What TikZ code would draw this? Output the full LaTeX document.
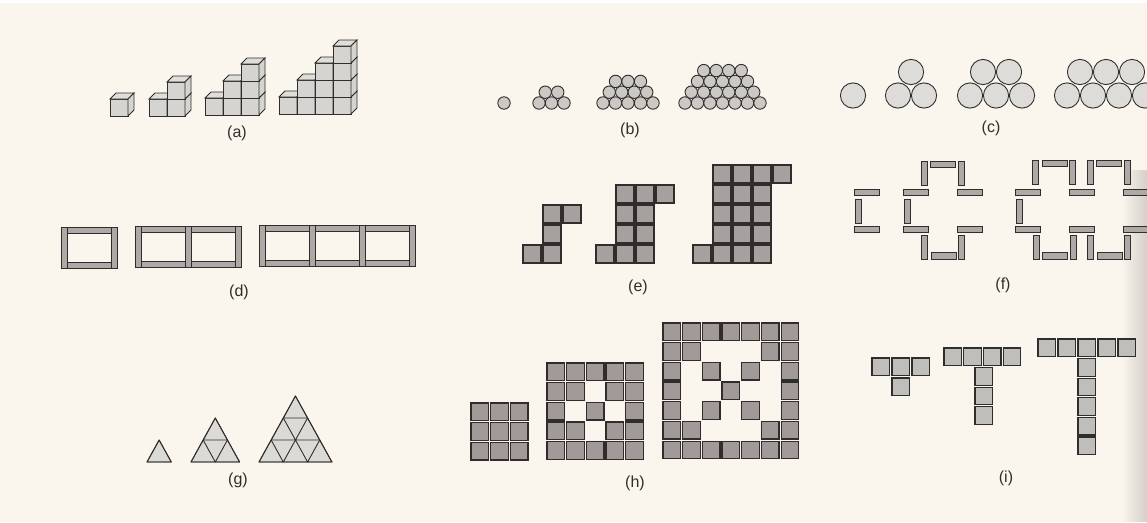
\documentclass[tikz,border=0pt]{standalone}
\usepackage{fontspec}
\setmainfont{Liberation Sans}
\usetikzlibrary{fadings}
\definecolor{bg}{RGB}{250,246,238}
\definecolor{ink}{RGB}{48,46,44}
\definecolor{cubecol}{RGB}{214,212,208}
\definecolor{cubetopcol}{RGB}{224,222,218}
\definecolor{ballb}{RGB}{204,201,197}
\definecolor{ballc}{RGB}{222,220,216}
\definecolor{stickcol}{RGB}{172,169,166}
\definecolor{ecol}{RGB}{166,161,159}
\definecolor{hcol}{RGB}{162,154,153}
\definecolor{icol}{RGB}{192,190,187}
\definecolor{tricol}{RGB}{220,218,214}
\definecolor{edgegray}{RGB}{212,207,200}
\tikzset{
  cubeface/.style={fill=cubecol, draw=ink, line width=0.9pt},
  cubetop/.style={fill=cubetopcol, draw=ink, line width=0.9pt},
  ballB/.style={fill=ballb, draw=ink, line width=0.9pt},
  ballC/.style={fill=ballc, draw=ink, line width=0.9pt},
  stick/.style={fill=stickcol, draw=ink, line width=0.9pt},
  esq/.style={fill=ecol, draw=ink, line width=1.3pt},
  hsq/.style={fill=hcol, draw=ink, line width=1.3pt},
  isq/.style={fill=icol, draw=ink, line width=1.2pt},
  tri/.style={draw=ink, line width=0.9pt, line join=round},
  trifill/.style={fill=tricol, draw=ink, line width=0.9pt, line join=round},
  lab/.style={font=\fontsize{16}{19}\selectfont, text=ink, inner sep=0pt}
}
\newcommand{\mycube}[2]{%
  \filldraw[cubeface] (#1,#2) rectangle ++(18,-17);
  \filldraw[cubetop] (#1,#2-17) -- ++(6,-6) -- ++(18,0) -- ++(-6,6) -- cycle;
  \filldraw[cubeface] (#1+18,#2) -- ++(6,-6) -- ++(0,-17) -- ++(-6,6) -- cycle;}
\newcommand{\hstick}[2]{\filldraw[stick] (#1,#2) rectangle ++(25,6.5);}
\newcommand{\vstick}[2]{\filldraw[stick] (#1,#2) rectangle ++(6.5,24);}
\newcommand{\esquare}[2]{\filldraw[esq] (#1,#2) rectangle ++(18,18);}
\newcommand{\isquare}[2]{\filldraw[isq] (#1,#2) rectangle ++(17.5,17.5);}
\begin{document}
\begin{tikzpicture}[x=1pt,y=-1pt]
\useasboundingbox (0,0) rectangle (1147,522);
\fill[bg] (0,0) rectangle (1147,522);
\fill[white] (0,0) rectangle (1147,3);
\fill[edgegray, path fading=west] (1122,170) rectangle (1147,522);
\begin{scope}
\clip (0,0) rectangle (1147,522);
% (a) staircases of cubes
\foreach \n/\x/\y in {1/110/116, 2/149/116, 3/205/115, 4/279/114} {
  \pgfmathtruncatemacro\m{\n-1}
  \foreach \j in {0,...,\m} {
    \foreach \i in {\j,...,\m} {\mycube{\x+18*\i}{\y-17*\j}}
  }
}
% (b) piles of balls
\foreach \n/\x in {1/504, 2/539, 3/603, 4/685} {
  \pgfmathtruncatemacro\m{\n-1}
  \foreach \k in {0,...,\m} {
    \pgfmathtruncatemacro\c{2*\n-2-\k}
    \foreach \i in {0,...,\c} {\filldraw[ballB] (\x+\k*6.25+\i*12.5, 103-\k*10.8) circle (6.2);}
  }
}
% (c) two rows of circles
\foreach \n/\x in {1/853, 2/898, 3/970, 4/1067} {
  \pgfmathtruncatemacro\m{\n-1}
  \foreach \i in {0,...,\m} {\filldraw[ballC] (\x+26*\i, 95.5) circle (12.6);}
  \ifnum\n>1
    \pgfmathtruncatemacro\mm{\n-2}
    \foreach \i in {0,...,\mm} {\filldraw[ballC] (\x+13+26*\i, 72) circle (12.6);}
  \fi
}
% (d) rows of matchstick frames
\foreach \n/\x/\y in {1/61/227, 2/135/226, 3/259/225} {
  \pgfmathtruncatemacro\m{\n-1}
  \foreach \k in {0,...,\m} {
    \filldraw[stick] (\x+50*\k+6,\y) rectangle ++(44,6);
    \filldraw[stick] (\x+50*\k+6,\y+35) rectangle ++(44,6);
  }
  \foreach \k in {0,...,\n} {\filldraw[stick] (\x+50*\k,\y) rectangle ++(6,41);}
}
% (e) squares
\foreach \c/\r in {0/0,1/0,1/1,1/2,2/2} {\esquare{523+20*\c}{245-20*\r}}
\foreach \c/\r in {0/0,1/0,2/0,1/1,2/1,1/2,2/2,1/3,2/3,3/3} {\esquare{596+20*\c}{245-20*\r}}
\foreach \c/\r in {0/0,1/0,2/0,3/0,1/1,2/1,3/1,1/2,2/2,3/2,1/3,2/3,3/3,1/4,2/4,3/4,4/4} {\esquare{693+20*\c}{245-20*\r}}
% (f) matchstick crosses
\hstick{854}{189} \vstick{855}{199} \hstick{854}{226}
\hstick{903}{189} \vstick{904}{199} \hstick{903}{226}
\vstick{921}{161} \hstick{930}{161} \vstick{958}{161}
\hstick{957}{189} \hstick{957}{226}
\vstick{921}{235} \hstick{931}{252.5} \vstick{958}{235}
\hstick{1015}{189} \vstick{1016}{199} \hstick{1015}{226}
\vstick{1032}{160} \hstick{1042}{160} \vstick{1069}{160}
\hstick{1069}{189} \hstick{1069}{226}
\vstick{1087}{160} \hstick{1096}{160} \vstick{1124}{160}
\hstick{1123}{189} \hstick{1123}{226}
\vstick{1033}{235} \hstick{1042}{252.5} \vstick{1070}{235}
\vstick{1087}{235} \hstick{1097}{252.5} \vstick{1124}{235}
% (g) triangles
\foreach \n/\x in {1/147, 2/191, 3/259} {
  \filldraw[trifill] (\x,462) -- ++(24.3*\n,0) -- ++(-12.15*\n,-22*\n) -- cycle;
  \foreach \r in {1,...,\n} {
    \pgfmathtruncatemacro\rr{\r-1}
    \foreach \i in {0,...,\rr} {
      \draw[tri] (\x+24.3*\i+12.15*\n-12.15*\r, 462-22*\n+22*\r)
        -- ++(24.3,0) -- ++(-12.15,-22) -- cycle;
    }
  }
}
% (h) square patterns
\foreach \N/\x/\y in {3/471/403, 5/547/363, 7/663/323} {
  \pgfmathtruncatemacro\m{\N-1}
  \pgfmathsetmacro\h{(\N-1)/2}
  \foreach \c in {0,...,\m} {
    \foreach \r in {0,...,\m} {
      \pgfmathtruncatemacro\f{(\c==0)||(\c==\m)||(\r==0)||(\r==\m)||(abs(\c-\h)==abs(\r-\h))}
      \ifnum\f=1
        \filldraw[hsq] (\x+19.7*\c,\y+19.7*\r) rectangle ++(17.5,17.5);
      \fi
    }
  }
}
% (i) T shapes
\foreach \c in {0,1,2} {\isquare{872+20*\c}{358}}
\isquare{892}{378}
\foreach \c in {0,...,3} {\isquare{944+19.7*\c}{348}}
\foreach \r in {1,2,3} {\isquare{975}{348+19.6*\r}}
\foreach \c in {0,...,4} {\isquare{1038+20*\c}{339}}
\foreach \r in {1,...,5} {\isquare{1078}{339+19.6*\r}}
\end{scope}
% labels
\node[lab] (la) at (237,133) {(a)};
\node[lab] (lb) at (630,130) {(b)};
\node[lab] (lc) at (991,128) {(c)};
\node[lab] (ld) at (239,292) {(d)};
\node[lab] (le) at (638,287) {(e)};
\node[lab] (lf) at (1003,285) {(f)};
\node[lab] (lg) at (238,480) {(g)};
\node[lab] (lh) at (635,483) {(h)};
\node[lab] (li) at (1006,478) {(i)};
\end{tikzpicture}
\end{document}
